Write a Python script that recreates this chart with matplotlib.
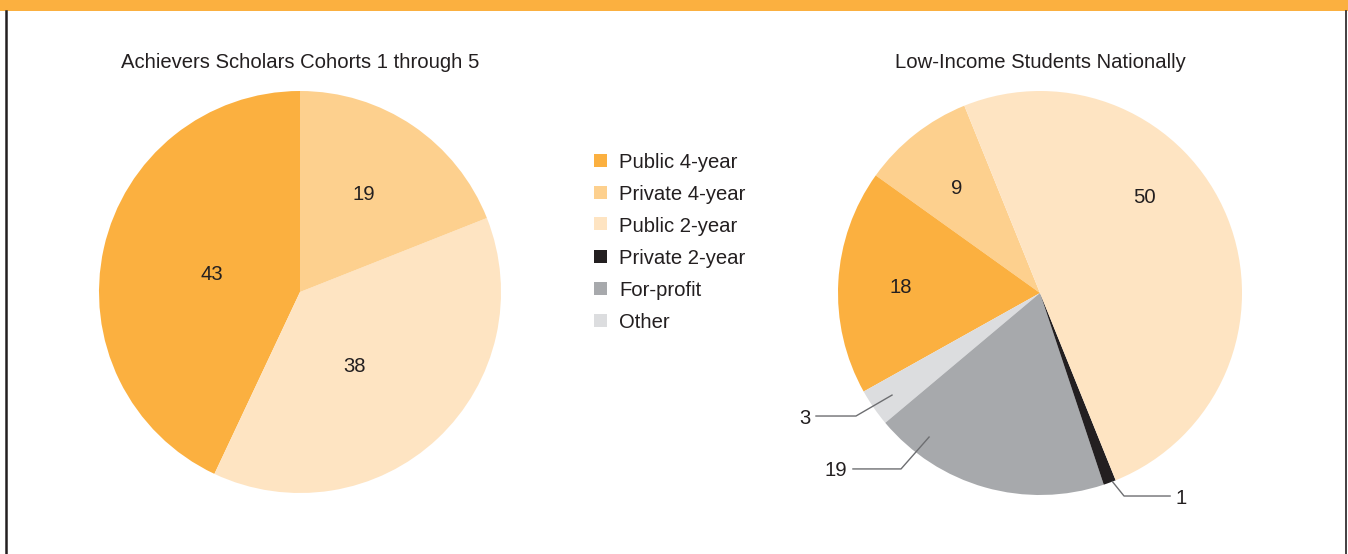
import matplotlib
matplotlib.use("Agg")
import numpy as np
import matplotlib.pyplot as plt
from matplotlib.patches import Rectangle
from matplotlib.lines import Line2D

plt.rcParams['font.family'] = ['Liberation Sans', 'DejaVu Sans']

# ---- data ----
categories = ["Public 4-year", "Private 4-year", "Public 2-year",
              "Private 2-year", "For-profit", "Other"]
cat_colors = ["#FBB040", "#FDD08E", "#FEE4C2", "#231F20", "#A7A9AC", "#DCDDDF"]

left_title = "Achievers Scholars Cohorts 1 through 5"
left_cats = ["Public 4-year", "Public 2-year", "Private 4-year"]
left_values = [43, 38, 19]

right_title = "Low-Income Students Nationally"
right_cats = ["Private 4-year", "Public 4-year", "Other", "For-profit",
              "Private 2-year", "Public 2-year"]
right_values = [9, 18, 3, 19, 1, 50]

TEXT = "#231F20"
FS = 14.6
W, H = 1348, 554

fig = plt.figure(figsize=(W / 100, H / 100), dpi=100)
fig.patch.set_facecolor("white")

cmap = dict(zip(categories, cat_colors))


def make_ax(cx, cy, r):
    ax = fig.add_axes([(cx - r) / W, (H - cy - r) / H, 2 * r / W, 2 * r / H])
    return ax


def fix_ax(ax):
    ax.set_xlim(-1, 1)
    ax.set_ylim(-1, 1)
    ax.set_aspect("equal")
    ax.axis("off")


def polar(r, deg):
    t = np.deg2rad(deg)
    return r * np.cos(t), r * np.sin(t)


# ---- left pie ----
axL = make_ax(300, 292, 201)
wL, _ = axL.pie(left_values, colors=[cmap[c] for c in left_cats], startangle=90,
                counterclock=True, radius=1, wedgeprops=dict(linewidth=0))
fix_ax(axL)
left_lbl = {0: (0.45, 0), 1: (0.45, -6), 2: (0.59, 1.6)}
for i, w in enumerate(wL):
    mid = (w.theta1 + w.theta2) / 2
    r, off = left_lbl[i]
    x, y = polar(r, mid + off)
    axL.text(x, y, str(left_values[i]), ha="center", va="center_baseline",
             fontsize=FS, color=TEXT)
fig.text(300 / W, 1 - 62 / H, left_title, ha="center", va="center",
         fontsize=FS, color=TEXT)

# ---- right pie ----
axR = make_ax(1040, 293, 202)
wR, _ = axR.pie(right_values, colors=[cmap[c] for c in right_cats], startangle=112,
                counterclock=True, radius=1, wedgeprops=dict(linewidth=0))
fix_ax(axR)
inner_lbl = {0: (0.67, 0), 1: (0.69, 0), 5: (0.71, 21)}
for i, (r, off) in inner_lbl.items():
    w = wR[i]
    mid = (w.theta1 + w.theta2) / 2
    x, y = polar(r, mid + off)
    axR.text(x, y, str(right_values[i]), ha="center", va="center_baseline",
             fontsize=FS, color=TEXT)

# leader-line labels: (index, anchor r, angle offset, elbow, line end x, text x, ha)
leaders = [
    (2, 0.89, 0, (-0.911, -0.609), -1.109, -1.135, "right"),
    (3, 0.90, -21.8, (-0.688, -0.871), -0.926, -0.955, "right"),
    (4, 1.00, 0.8, (0.416, -1.005), 0.644, 0.67, "left"),
]
for i, r, off, (ex, ey), lx, tx, ha in leaders:
    w = wR[i]
    mid = (w.theta1 + w.theta2) / 2
    ax_, ay_ = polar(r, mid + off)
    axR.add_line(Line2D([ax_, ex, lx], [ay_, ey, ey], color="#6D6E71", lw=1.0,
                        clip_on=False))
    axR.text(tx, ey, str(right_values[i]), ha=ha, va="center_baseline",
             fontsize=FS, color=TEXT, clip_on=False)
fig.text(1040 / W, 1 - 62 / H, right_title, ha="center", va="center",
         fontsize=FS, color=TEXT)

# ---- legend ----
for k, (cat, col) in enumerate(zip(categories, cat_colors)):
    yc = 160 + 32 * k
    fig.add_artist(Rectangle((594 / W, 1 - (yc + 6.5) / H), 13 / W, 13 / H,
                             transform=fig.transFigure, facecolor=col,
                             edgecolor="none"))
    fig.text(619 / W, 1 - yc / H, cat, ha="left", va="center_baseline",
             fontsize=FS, color=TEXT)

# ---- frame ----
fig.add_artist(Rectangle((0, 1 - 10.5 / H), 1, 10.5 / H, transform=fig.transFigure,
                         facecolor="#FBB040", edgecolor="none"))
fig.add_artist(Line2D([6 / W, 6 / W], [0, 1 - 10.5 / H], transform=fig.transFigure,
                      color="#231F20", lw=1.8))
fig.add_artist(Line2D([1346 / W, 1346 / W], [0, 1 - 10.5 / H],
                      transform=fig.transFigure, color="#231F20", lw=1.2))

fig.savefig("out.png", dpi=100)
